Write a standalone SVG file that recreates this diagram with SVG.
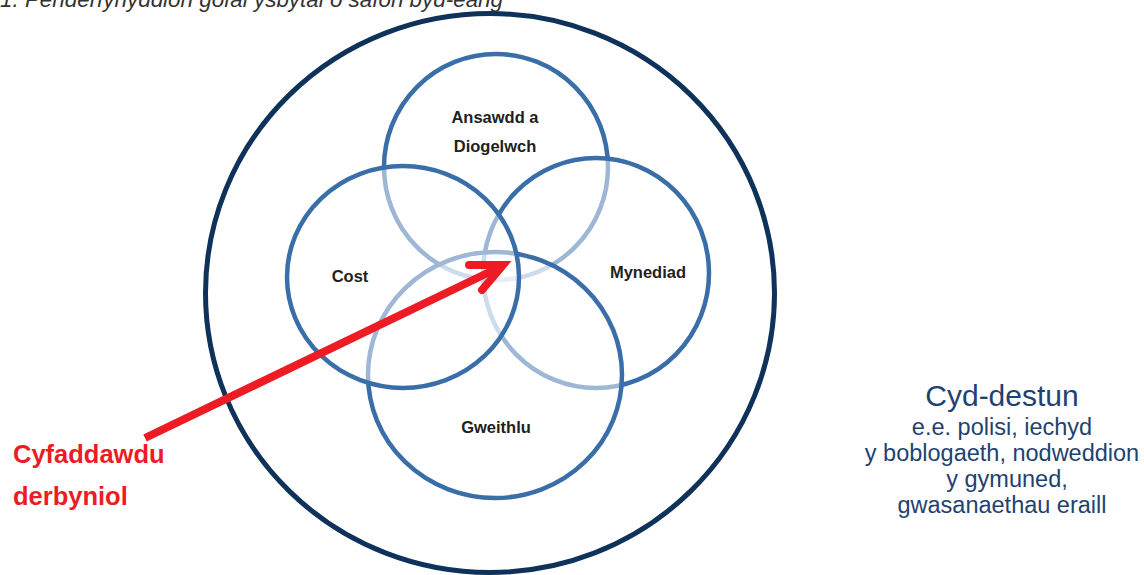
<svg xmlns="http://www.w3.org/2000/svg" width="1144" height="575" viewBox="0 0 1144 575">
<style>
.venn{fill:#ffffff;fill-opacity:0.5;stroke:#3a6ea8;stroke-width:4.5}
.lbl{font-family:"Liberation Sans",Arial,sans-serif;font-weight:700;font-size:16.5px;fill:#231f20;text-anchor:middle}
.red{font-family:"Liberation Sans",Arial,sans-serif;font-weight:700;font-size:25.5px;fill:#ed1c24}
.ctx{font-family:"Liberation Sans",Arial,sans-serif;fill:#1f4270;text-anchor:middle}
</style>
<rect width="1144" height="575" fill="#ffffff"/>
<text x="0" y="7" font-family="'Liberation Sans',Arial,sans-serif" font-style="italic" font-size="22" fill="#333333" textLength="503" lengthAdjust="spacingAndGlyphs">1. Penderfynyddion gofal ysbytai o safon byd-eang</text>
<g id="context">
<ellipse cx="490" cy="293" rx="284.5" ry="279.5" fill="none" stroke="#0e3259" stroke-width="5"/>
</g>
<g id="ansawdd">
<ellipse class="venn" cx="496" cy="167" rx="112" ry="113"/>
<text class="lbl" x="495" y="123">Ansawdd a</text>
<text class="lbl" x="495" y="152">Diogelwch</text>
</g>
<g id="mynediad">
<ellipse class="venn" cx="596" cy="273" rx="113" ry="115"/>
<text class="lbl" x="648" y="278">Mynediad</text>
</g>
<g id="gweithlu">
<ellipse class="venn" cx="495" cy="375" rx="127" ry="123"/>
<text class="lbl" x="496" y="433">Gweithlu</text>
</g>
<g id="cost">
<ellipse class="venn" cx="403" cy="277" rx="116" ry="111"/>
<text class="lbl" x="350" y="282">Cost</text>
</g>
<g id="connectors">
<line x1="145" y1="438" x2="500" y2="267" stroke="#ed1c24" stroke-width="8"/>
<polyline points="469,265 503,265 482,290" fill="none" stroke="#ed1c24" stroke-width="8" stroke-linecap="round" stroke-linejoin="miter"/>
</g>
<g id="tradeoff">
<text class="red" x="13" y="463">Cyfaddawdu</text>
<text class="red" x="13" y="505">derbyniol</text>
</g>
<g id="cyd-destun">
<text class="ctx" x="1002" y="406" font-size="30">Cyd-destun</text>
<text class="ctx" x="1002" y="435" font-size="23.5">e.e. polisi, iechyd</text>
<text class="ctx" x="1002" y="461" font-size="23.5">y boblogaeth, nodweddion</text>
<text class="ctx" x="1007" y="487" font-size="23.5">y gymuned,</text>
<text class="ctx" x="1002" y="513" font-size="23.5">gwasanaethau eraill</text>
</g>
</svg>
